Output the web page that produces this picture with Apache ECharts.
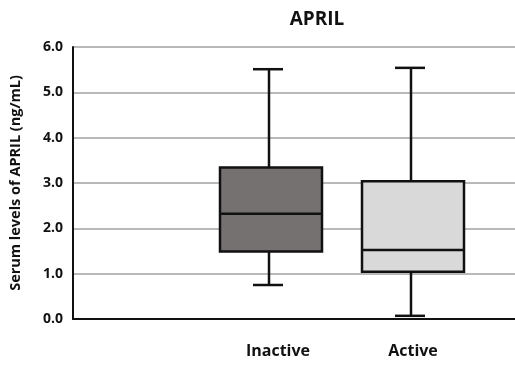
<!DOCTYPE html>
<html>
<head>
<meta charset="utf-8">
<script src="https://cdn.jsdelivr.net/npm/echarts@6/dist/echarts.min.js"></script>
<style>
  html, body { margin: 0; padding: 0; background: #fff; }
  #chart { width: 515px; height: 367px; }
</style>
</head>
<body>
<div id="chart"></div>
<script>
// Serum APRIL by disease activity: five-number summaries per group
const categories = ['', 'Inactive', 'Active'];
const whiskerLow = [null, 0.75, 0.07];
const quartile1  = [null, 1.49, 1.04];
const medians    = [null, 2.32, 1.52];
const quartile3  = [null, 3.34, 3.04];
const whiskerHigh = [null, 5.51, 5.54];
const yTicks = [0, 1, 2, 3, 4, 5, 6];
const boxColors = [null, '#757171', '#d9d9d9'];

const FONT = '"Open Sans", "Noto Sans", sans-serif';

const seriesData = [];
for (let i = 0; i < categories.length; i++) {
  if (medians[i] == null) continue;
  seriesData.push({
    value: [i, whiskerLow[i], quartile1[i], medians[i], quartile3[i], whiskerHigh[i]],
    itemStyle: { color: boxColors[i] }
  });
}

function renderBox(params, api) {
  const x = api.value(0);
  const lo = api.coord([x, api.value(1)]);
  const q1 = api.coord([x, api.value(2)]);
  const md = api.coord([x, api.value(3)]);
  const q3 = api.coord([x, api.value(4)]);
  const hi = api.coord([x, api.value(5)]);
  const cx = lo[0];
  const half = 51;
  const cap = 15;
  const fill = api.visual('color');
  const line = { stroke: '#111', lineWidth: 2.5 };
  return {
    type: 'group',
    children: [
      { type: 'line', shape: { x1: cx - 2, y1: q3[1], x2: cx - 2, y2: hi[1] }, style: line },
      { type: 'line', shape: { x1: cx - 3 - cap, y1: hi[1], x2: cx - 3 + cap, y2: hi[1] }, style: line },
      { type: 'line', shape: { x1: cx - 2, y1: q1[1], x2: cx - 2, y2: lo[1] }, style: line },
      { type: 'line', shape: { x1: cx - 3 - cap, y1: lo[1], x2: cx - 3 + cap, y2: lo[1] }, style: line },
      { type: 'rect', shape: { x: cx - half, y: q3[1], width: half * 2, height: q1[1] - q3[1] },
        style: { fill: fill, stroke: '#111', lineWidth: 2.5 } },
      { type: 'line', shape: { x1: cx - half, y1: md[1], x2: cx + half, y2: md[1] }, style: line }
    ]
  };
}

const chart = echarts.init(document.getElementById('chart'));
chart.setOption({
  animation: false,
  backgroundColor: '#fff',
  title: {
    text: 'APRIL',
    left: 312, top: 5, textAlign: 'center',
    textStyle: { fontFamily: FONT, fontWeight: 'bold', fontSize: 19, color: '#111' }
  },
  grid: [
    { left: 68, right: 0, top: 47, bottom: 48 },
    { left: 58, width: 426, top: 47, bottom: 48 }
  ],
  xAxis: [
    {
      gridIndex: 0, type: 'value', min: 0, max: 1,
      axisLine: { show: true, onZero: false, lineStyle: { color: '#111', width: 2 } },
      axisTick: { show: false }, axisLabel: { show: false }, splitLine: { show: false }
    },
    {
      gridIndex: 1, type: 'category',
      data: categories.map((c, i) => i === 1
        ? { value: c, textStyle: { padding: [0, 0, 0, 14] } }
        : c),
      boundaryGap: true,
      axisLine: { show: false }, axisTick: { show: false },
      axisLabel: {
        margin: 24, fontFamily: FONT, fontWeight: 'bold', fontSize: 16, color: '#111'
      },
      splitLine: { show: false }
    }
  ],
  yAxis: [
    {
      gridIndex: 0, type: 'value', min: yTicks[0], max: yTicks[yTicks.length - 1], interval: 1,
      name: 'Serum levels of APRIL (ng/mL)',
      nameLocation: 'middle', nameRotate: 90, nameGap: 50,
      nameTextStyle: { fontFamily: FONT, fontWeight: 'bold', fontSize: 14.5, color: '#111' },
      axisLine: { show: true, lineStyle: { color: '#111', width: 2 } },
      axisTick: { show: false },
      axisLabel: {
        margin: 10, fontFamily: FONT, fontWeight: 'bold', fontSize: 14, color: '#111',
        formatter: v => v.toFixed(1)
      },
      splitLine: { show: true, lineStyle: { color: '#b9b9b9', width: 2 } }
    },
    {
      gridIndex: 1, type: 'value', min: yTicks[0], max: yTicks[yTicks.length - 1],
      show: false
    }
  ],
  series: [
    {
      type: 'custom',
      xAxisIndex: 1, yAxisIndex: 1,
      renderItem: renderBox,
      encode: { x: 0, y: [1, 2, 3, 4, 5] },
      data: seriesData,
      z: 5
    }
  ]
});
</script>
</body>
</html>
